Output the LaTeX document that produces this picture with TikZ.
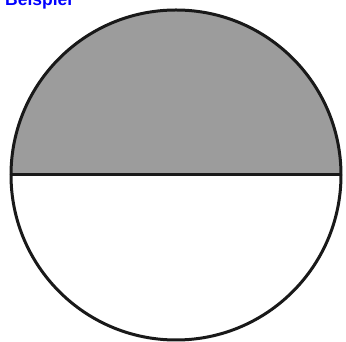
\documentclass[tikz,border=0pt]{standalone}
\usepackage{fontspec}
\setmainfont{Liberation Sans}
\begin{document}
\begin{tikzpicture}[x=1pt,y=1pt,
  outline/.style={line width=3pt,draw=black!90}]
\useasboundingbox (0,0) rectangle (346,342);
\coordinate (c) at (176,167);
\fill[gray!78!white] (c) ++(-165,0) arc[start angle=180,end angle=0,radius=165] -- cycle;
\draw[outline] (c) circle[radius=165];
\coordinate (l) at (11,167);
\coordinate (r) at (341,167);
\draw[outline] (l) -- (r);
\node[anchor=base west,inner sep=0pt,text=blue,font=\bfseries\fontsize{17.5}{20}\selectfont] (t) at (5,336) {Beispiel};
\end{tikzpicture}
\end{document}
